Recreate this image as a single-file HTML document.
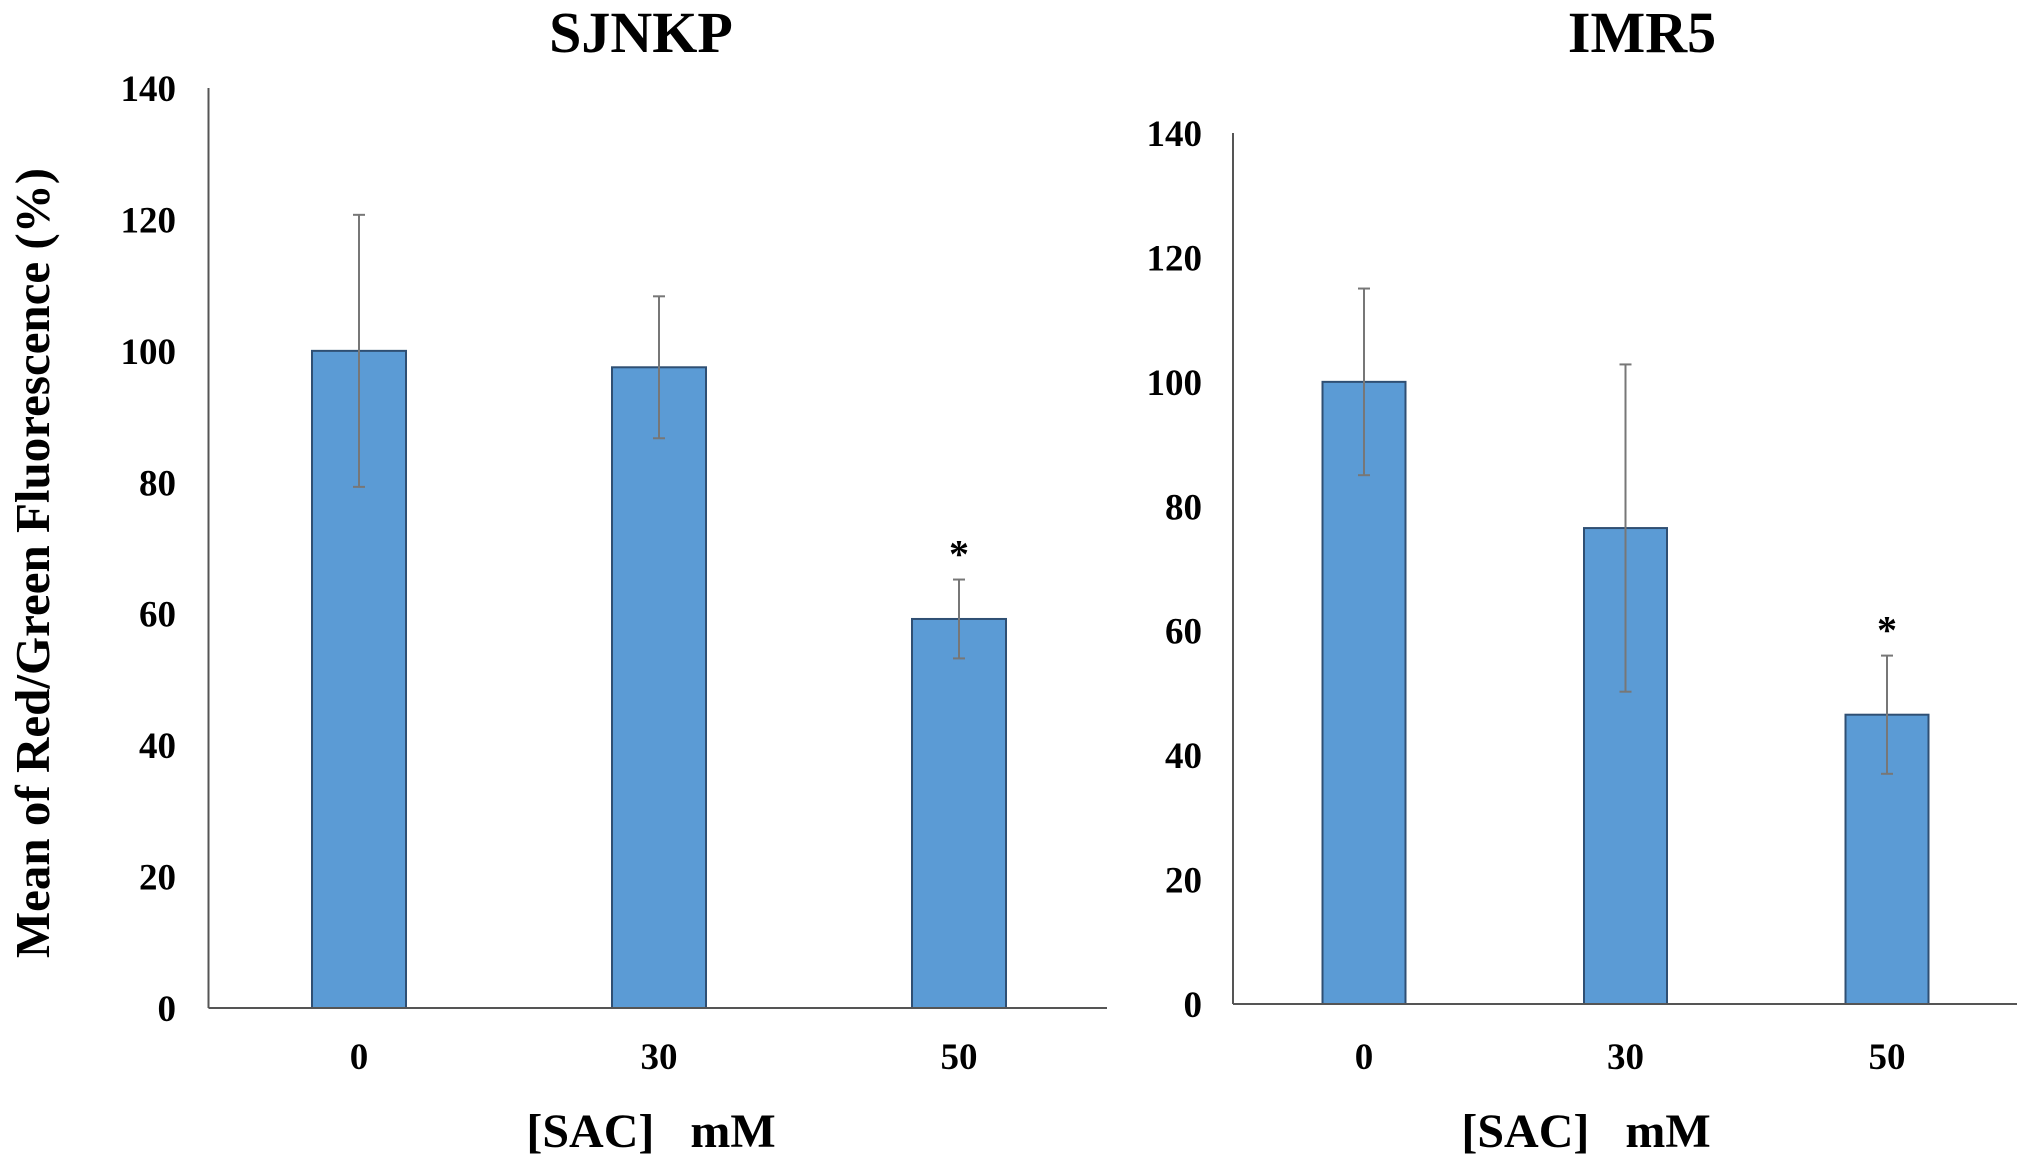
<!DOCTYPE html>
<html><head><meta charset="utf-8"><style>
html,body{margin:0;padding:0;background:#fff;}
svg{display:block;}
text{font-family:"Liberation Serif",serif;font-weight:bold;fill:#000;}
</style></head><body>
<svg id="chart" width="2031" height="1168" viewBox="0 0 2031 1168"></svg>
<script>
const categories = ["0", "30", "50"];
const sjnkpValues = [100, 97.5, 59.2];
const sjnkpErrors = [20.7, 10.8, 6.0];
const imr5Values = [100, 76.5, 46.5];
const imr5Errors = [15, 26.3, 9.5];
const yTicks = [0, 20, 40, 60, 80, 100, 120, 140];
const sjnkpSig = [false, false, true];
const imr5Sig = [false, false, true];

const NS = "http://www.w3.org/2000/svg";
const svg = document.getElementById("chart");
function mk(tag, attrs, parent) {
  const e = document.createElementNS(NS, tag);
  for (const k in attrs) e.setAttribute(k, attrs[k]);
  (parent || svg).appendChild(e);
  return e;
}

function drawPanel(cfg) {
  const g = mk("g", {});
  
  
  const y = v => cfg.y0 - (v / 140) * (cfg.y0 - cfg.y140);
  const x = i => cfg.centers0 + i * cfg.step;

  const t = mk("text", {x: cfg.titleX, y: 52, "font-size": 58, "text-anchor": "middle"}, g);
  t.textContent = cfg.title;
  
  

  yTicks.forEach(v => {
    const tl = mk("text", {x: cfg.tickRight, y: y(v) + 13, "font-size": 37, "text-anchor": "end"}, g);
    tl.textContent = v;
    
    
  });

  const vals = cfg.values, errs = cfg.errors;
  vals.forEach((v, i) => {
    const b = mk("rect", {x: x(i) - cfg.bw / 2, y: y(v), width: cfg.bw, height: y(0) - y(v), fill: "#5b9bd5", stroke: "#2f4f73", "stroke-width": 2}, g);
    
    
    const eg = mk("g", {stroke: "#777", "stroke-width": 2}, g);
    
    
    mk("line", {x1: x(i), x2: x(i), y1: y(v + errs[i]), y2: y(v - errs[i])}, eg);
    mk("line", {x1: x(i) - 6, x2: x(i) + 6, y1: y(v + errs[i]), y2: y(v + errs[i])}, eg);
    mk("line", {x1: x(i) - 6, x2: x(i) + 6, y1: y(v - errs[i]), y2: y(v - errs[i])}, eg);
    if (cfg.sig[i]) {
      const s = mk("text", {x: x(i), y: y(v + errs[i]) - 12, "font-size": 40, "text-anchor": "middle"}, g);
      s.textContent = "*";
      
      
    }
    const xl = mk("text", {x: x(i), y: 1069, "font-size": 37, "text-anchor": "middle"}, g);
    xl.textContent = categories[i];
    
    
  });

  const ya = mk("line", {x1: cfg.ax, x2: cfg.ax, y1: cfg.y140, y2: cfg.y0, stroke: "#555", "stroke-width": 2}, g);
  
  
  const xa = mk("line", {x1: cfg.ax, x2: cfg.axEnd, y1: cfg.y0, y2: cfg.y0, stroke: "#555", "stroke-width": 2}, g);
  
  

  const xt = mk("text", {x: cfg.xTitleX, y: 1147, "font-size": 48, "text-anchor": "middle"}, g);
  xt.textContent = "[SAC]\u00a0\u00a0\u00a0mM";
  
  
}

drawPanel({name: "sjnkp", title: "SJNKP", titleX: 641, ax: 208.5, axEnd: 1107, y0: 1008, y140: 88,
  centers0: 359, step: 300, bw: 94, tickRight: 176, xTitleX: 651,
  values: sjnkpValues, errors: sjnkpErrors, sig: sjnkpSig});
drawPanel({name: "imr5", title: "IMR5", titleX: 1642, ax: 1233, axEnd: 2017, y0: 1004, y140: 133,
  centers0: 1364, step: 261.5, bw: 83, tickRight: 1202, xTitleX: 1586,
  values: imr5Values, errors: imr5Errors, sig: imr5Sig});

const yt = mk("text", {x: 0, y: 0, "font-size": 49, "text-anchor": "middle", transform: "translate(49,563) rotate(-90)"});
yt.textContent = "Mean of Red/Green Fluorescence (%)";


</script>
</body></html>
